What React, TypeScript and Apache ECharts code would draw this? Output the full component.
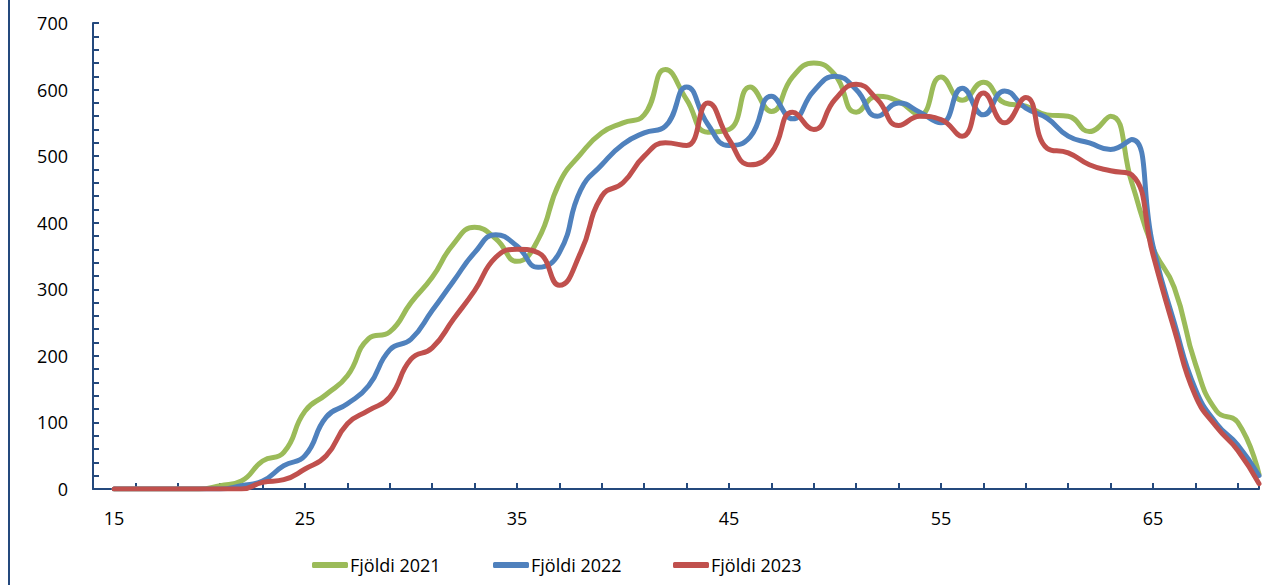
import React, { useEffect, useRef } from "react";
import * as echarts from "echarts";

const ages: number[] = [
  16, 17, 18, 19, 20, 21, 22, 23, 24, 25, 26, 27, 28, 29, 30, 31, 32, 33, 34, 35,
  36, 37, 38, 39, 40, 41, 42, 43, 44, 45, 46, 47, 48, 49, 50, 51, 52, 53, 54, 55,
  56, 57, 58, 59, 60, 61, 62, 63, 64, 65, 66, 67, 68, 69, 70,
];

const fjoldi2021: number[] = [
  0, 0, 0, 0, 0, 5, 12, 42, 55, 117, 142, 170, 226, 236, 280, 318, 368, 393, 376, 342,
  375, 460, 503, 535, 550, 562, 630, 585, 536, 540, 604, 567, 619, 640, 622, 566, 590, 582, 562, 619,
  584, 611, 580, 575, 562, 560, 537, 560, 460, 362, 303, 188, 117, 100, 22,
];

const fjoldi2022: number[] = [
  0, 0, 0, 0, 0, 0, 5, 12, 35, 50, 108, 128, 155, 209, 225, 268, 312, 355, 382, 365,
  333, 355, 449, 487, 518, 535, 545, 604, 548, 516, 529, 590, 556, 598, 620, 600, 560, 580, 566, 550,
  602, 562, 598, 572, 557, 530, 520, 510, 525, 365, 250, 150, 98, 66, 20,
];

const fjoldi2023: number[] = [
  0, 0, 0, 0, 0, 0, 0, 10, 14, 30, 50, 98, 118, 138, 195, 212, 255, 298, 348, 360,
  355, 306, 355, 440, 460, 500, 520, 516, 580, 525, 487, 505, 566, 540, 585, 608, 585, 546, 560, 555,
  530, 595, 550, 588, 512, 505, 487, 478, 472, 352, 240, 140, 93, 58, 8,
];

const seriesNames: string[] = ["Fjöldi 2021", "Fjöldi 2022", "Fjöldi 2023"];
const seriesColors: string[] = ["#9BBB59", "#4F81BD", "#C0504D"];
const seriesValues: number[][] = [fjoldi2021, fjoldi2022, fjoldi2023];

const AXIS_COLOR = "#24497D";
const FONT = "'Open Sans', sans-serif";
const FS = 18;

export default function App() {
  const ref = useRef<HTMLDivElement>(null);

  useEffect(() => {
    if (!ref.current) return;
    const chart = echarts.init(ref.current, undefined, { renderer: "svg" });

    const legendLefts = [307, 488, 668];

    chart.setOption({
      animation: false,
      backgroundColor: "#ffffff",
      textStyle: { fontFamily: FONT },
      grid: { left: 93, right: 17, top: 23, bottom: 96, containLabel: false },
      legend: seriesNames.map((name, i) => ({
        data: [name],
        left: legendLefts[i],
        top: 551,
        orient: "horizontal",
        icon: "roundRect",
        itemWidth: 36,
        itemHeight: 6,
        itemGap: 0,
        textStyle: { fontFamily: FONT, fontSize: FS, color: "#000", padding: [0, 0, 0, -3] },
        selectedMode: false,
      })),
      xAxis: [
        {
          type: "value",
          min: 15,
          max: 70,
          interval: 10,
          axisLine: { show: true, lineStyle: { color: AXIS_COLOR, width: 2 } },
          axisTick: { show: false },
          splitLine: { show: false },
          axisLabel: {
            color: "#000",
            fontFamily: FONT,
            fontSize: FS,
            margin: 20,
            showMaxLabel: false,
            formatter: (v: number) => (v === 15 ? "{f|15}" : String(v)),
            rich: {
              f: { padding: [0, 0, 0, 42], fontSize: FS, fontFamily: FONT, color: "#000" },
            },
          },
        },
        {
          type: "value",
          min: 15,
          max: 70,
          interval: 2,
          position: "bottom",
          axisLine: { show: false },
          axisTick: { show: true, inside: true, length: 6, lineStyle: { color: AXIS_COLOR, width: 2 } },
          axisLabel: { show: false },
          splitLine: { show: false },
        },
      ],
      yAxis: {
        type: "value",
        min: 0,
        max: 700,
        interval: 100,
        axisLine: { show: true, lineStyle: { color: AXIS_COLOR, width: 2 } },
        axisTick: { show: true, inside: true, length: 6, lineStyle: { color: AXIS_COLOR, width: 2 } },
        minorTick: { show: true, splitNumber: 5, length: 6, lineStyle: { color: AXIS_COLOR, width: 2 } },
        splitLine: { show: false },
        axisLabel: { color: "#000", fontFamily: FONT, fontSize: FS, margin: 25 },
      },
      graphic: [
        {
          type: "line",
          shape: { x1: 9, y1: 0, x2: 9, y2: 585 },
          style: { stroke: AXIS_COLOR, lineWidth: 2 },
          silent: true,
        },
      ],
      series: seriesNames.map((name, i) => ({
        name,
        type: "line",
        xAxisIndex: 0,
        smooth: 0.5,
        symbol: "none",
        color: seriesColors[i],
        lineStyle: { color: seriesColors[i], width: 5, cap: "round", join: "round" },
        data: ages.map((a, j) => [a, seriesValues[i][j]]),
        z: 2 + i,
      })),
    });

    return () => chart.dispose();
  }, []);

  return (
    <div
      ref={ref}
      style={{ position: "absolute", left: 0, top: 0, width: 1276, height: 585 }}
    />
  );
}
